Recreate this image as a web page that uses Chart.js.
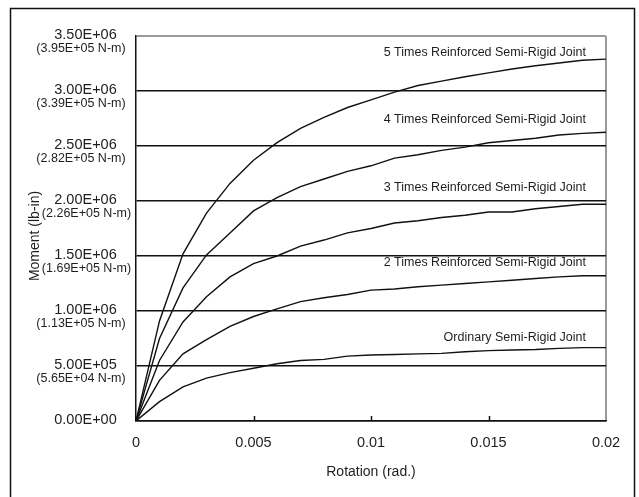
<!DOCTYPE html>
<html>
<head>
<meta charset="utf-8">
<script src="https://cdn.jsdelivr.net/npm/chart.js@4/dist/chart.umd.min.js"></script>
<style>
  html, body { margin: 0; padding: 0; background: #fff; }
  #wrap { position: relative; width: 639px; height: 497px; }
</style>
</head>
<body>
<div id="wrap"><canvas id="chart" width="639" height="497"></canvas></div>
<script>
// rotation (rad.)
const rotation = [0, 0.001, 0.002, 0.003, 0.004, 0.005, 0.006, 0.007, 0.008, 0.009, 0.01,
  0.011, 0.012, 0.013, 0.014, 0.015, 0.016, 0.017, 0.018, 0.019, 0.02];

// moment (lb-in)
const ordinaryJoint = [0, 176000, 310000, 390000, 440000, 480000, 520000, 550000, 560000, 590000, 600000,
  605000, 610000, 615000, 630000, 640000, 645000, 650000, 660000, 667000, 667000];
const times2Joint = [0, 370000, 610000, 740000, 860000, 950000, 1020000, 1085000, 1120000, 1150000, 1190000,
  1200000, 1220000, 1235000, 1250000, 1265000, 1280000, 1295000, 1310000, 1320000, 1320000];
const times3Joint = [0, 550000, 900000, 1130000, 1310000, 1430000, 1500000, 1590000, 1645000, 1710000, 1750000,
  1800000, 1820000, 1850000, 1870000, 1900000, 1900000, 1930000, 1950000, 1970000, 1970000];
const times4Joint = [0, 750000, 1210000, 1510000, 1710000, 1910000, 2030000, 2130000, 2200000, 2270000, 2320000,
  2390000, 2420000, 2460000, 2490000, 2530000, 2550000, 2570000, 2600000, 2615000, 2625000];
const times5Joint = [0, 910000, 1520000, 1890000, 2160000, 2370000, 2530000, 2660000, 2760000, 2850000, 2920000,
  2990000, 3050000, 3090000, 3130000, 3165000, 3200000, 3230000, 3255000, 3280000, 3290000];

const seriesNames = [
  "Ordinary Semi-Rigid Joint",
  "2 Times Reinforced Semi-Rigid Joint",
  "3 Times Reinforced Semi-Rigid Joint",
  "4 Times Reinforced Semi-Rigid Joint",
  "5 Times Reinforced Semi-Rigid Joint"
];

const yTickValues = [0, 500000, 1000000, 1500000, 2000000, 2500000, 3000000, 3500000];
const yTickLabels = ["0.00E+00", "5.00E+05", "1.00E+06", "1.50E+06", "2.00E+06", "2.50E+06", "3.00E+06", "3.50E+06"];
const yTickMetric = ["", "(5.65E+04 N-m)", "(1.13E+05 N-m)", "(1.69E+05 N-m)", "(2.26E+05 N-m)",
  "(2.82E+05 N-m)", "(3.39E+05 N-m)", "(3.95E+05 N-m)"];
const xTickValues = [0, 0.005, 0.01, 0.015, 0.02];
const xTickLabels = ["0", "0.005", "0.01", "0.015", "0.02"];

const FONT = '"Liberation Sans", Arial, Helvetica, sans-serif';
const TEXT = "#1e1e1e";

// where each curve's caption sits (right edge, data units)
const captionAnchors = [
  [0.01915, 760000],
  [0.01915, 1440000],
  [0.01915, 2120000],
  [0.01915, 2740000],
  [0.01915, 3350000]
];

function makeSet(name, values) {
  return {
    label: name,
    data: rotation.map((r, i) => ({ x: r, y: values[i] })),
    borderColor: "#111",
    borderWidth: 1.4,
    pointRadius: 0,
    tension: 0,
    fill: false
  };
}

const textPlugin = {
  id: "texts",
  beforeDraw(chart) {
    const ctx = chart.ctx;
    ctx.save();
    ctx.fillStyle = "#fff";
    ctx.fillRect(0, 0, chart.width, chart.height);
    ctx.strokeStyle = "#111";
    ctx.lineWidth = 1.5;
    ctx.strokeRect(10.5, 8.5, 624, 520);
    ctx.restore();
  },
  afterDraw(chart) {
    const ctx = chart.ctx;
    const x = chart.scales.x;
    const y = chart.scales.y;
    const area = chart.chartArea;
    const titleY = (area.top + area.bottom) / 2 + 7.5;
    ctx.save();
    ctx.fillStyle = TEXT;
    ctx.textBaseline = "middle";

    // y tick labels, two lines
    yTickValues.forEach((v, i) => {
      const py = y.getPixelForValue(v);
      ctx.textAlign = "center";
      ctx.font = "14.5px " + FONT;
      ctx.fillText(yTickLabels[i], 85.5, py - 1.5);
      if (yTickMetric[i]) {
        ctx.font = "12.5px " + FONT;
        // second line steps aside where the axis title runs
        const nearTitle = Math.abs(py + 13 - titleY) < 50;
        ctx.fillText(yTickMetric[i], nearTitle ? 86.5 : 81, py + 13);
      }
    });

    // x tick labels + inward tick marks
    ctx.font = "14.5px " + FONT;
    ctx.textAlign = "center";
    xTickValues.forEach((v, i) => {
      const px = x.getPixelForValue(v);
      ctx.fillText(xTickLabels[i], px, area.bottom + 22);
      if (i > 0 && i < xTickValues.length - 1) {
        ctx.strokeStyle = "#111";
        ctx.lineWidth = 1.5;
        ctx.beginPath();
        ctx.moveTo(Math.round(px) + 0.5, area.bottom);
        ctx.lineTo(Math.round(px) + 0.5, area.bottom - 5);
        ctx.stroke();
      }
    });

    // axis titles
    ctx.font = "14px " + FONT;
    ctx.fillText("Rotation (rad.)", (area.left + area.right) / 2, area.bottom + 51);
    ctx.save();
    ctx.translate(35, titleY);
    ctx.rotate(-Math.PI / 2);
    ctx.fillText("Moment (lb-in)", 0, 0);
    ctx.restore();

    // curve captions
    ctx.font = "12.5px " + FONT;
    ctx.textAlign = "right";
    captionAnchors.forEach((a, i) => {
      ctx.fillText(seriesNames[i], x.getPixelForValue(a[0]), y.getPixelForValue(a[1]));
    });
    ctx.restore();
  }
};

new Chart(document.getElementById("chart"), {
  type: "line",
  data: {
    datasets: [
      makeSet(seriesNames[0], ordinaryJoint),
      makeSet(seriesNames[1], times2Joint),
      makeSet(seriesNames[2], times3Joint),
      makeSet(seriesNames[3], times4Joint),
      makeSet(seriesNames[4], times5Joint)
    ]
  },
  options: {
    responsive: false,
    animation: false,
    layout: { padding: { left: 136, right: 33, top: 36, bottom: 76 } },
    plugins: { legend: { display: false }, tooltip: { enabled: false } },
    scales: {
      x: {
        type: "linear",
        min: 0,
        max: 0.02,
        ticks: { display: false, stepSize: 0.005 },
        grid: {
          drawTicks: false,
          lineWidth: 2,
          color: (c) => (c.tick && c.tick.value === 0.02 ? "#9a9a9a" : "rgba(0,0,0,0)")
        },
        border: { display: true, color: "#111", width: 1.5 }
      },
      y: {
        type: "linear",
        min: 0,
        max: 3500000,
        ticks: { display: false, stepSize: 500000 },
        grid: {
          drawTicks: false,
          lineWidth: (c) => (c.tick && c.tick.value === 3500000 ? 2 : 1.4),
          color: (c) => (c.tick && c.tick.value === 3500000 ? "#9a9a9a" : "#111")
        },
        border: { display: true, color: "#111", width: 1.5 }
      }
    }
  },
  plugins: [textPlugin]
});
</script>
</body>
</html>
